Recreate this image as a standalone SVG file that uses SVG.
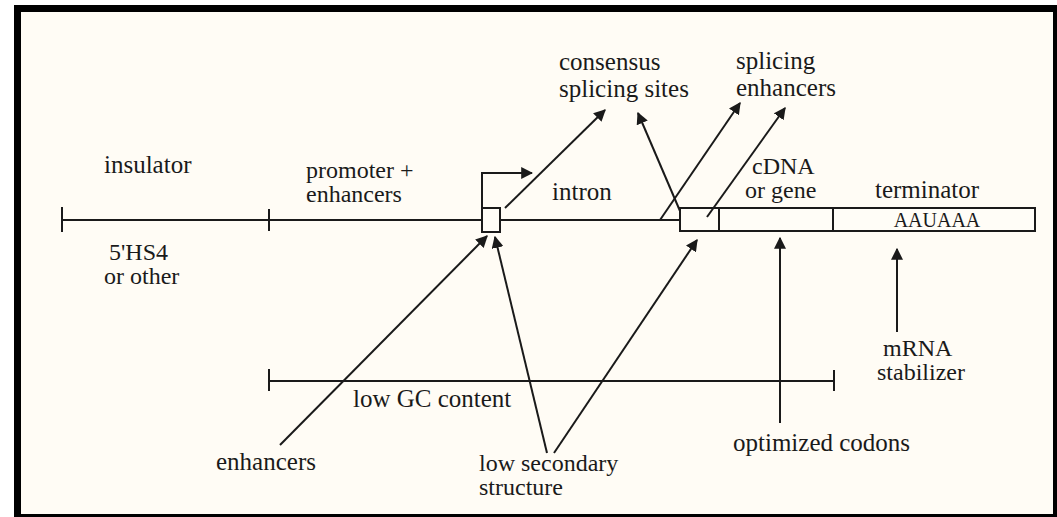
<svg xmlns="http://www.w3.org/2000/svg" width="1057" height="517" viewBox="0 0 1057 517">
<style>
text{font-family:"Liberation Serif","Times New Roman",serif;font-size:25px;fill:#1a1a1a}
.ln{stroke:#1a1a1a;stroke-width:2;fill:none}
.bx{stroke:#1a1a1a;stroke-width:2;fill:#fffdf7}
.ar{stroke:#1a1a1a;stroke-width:2;fill:none;marker-end:url(#ah)}
.sm{font-size:20px}
.tl{font-size:24px}
</style>
<defs>
<marker id="ah" viewBox="0 0 10 10" refX="9" refY="5" markerWidth="6" markerHeight="6" markerUnits="strokeWidth" orient="auto">
<path d="M0,0 L10,5 L0,10 z" fill="#1a1a1a"/>
</marker>
</defs>
<rect x="0" y="0" width="1057" height="517" fill="#ffffff"/>
<rect x="14" y="5" width="1043" height="512" fill="#000"/>
<rect x="21" y="12" width="1032" height="502" fill="#fffcf5"/>

<g id="backbone">
<line class="ln" x1="62" y1="220" x2="482" y2="220"/>
<line class="ln" x1="500" y1="220" x2="680" y2="220"/>
<line class="ln" x1="62" y1="207" x2="62" y2="232"/>
<line class="ln" x1="269" y1="209" x2="269" y2="231"/>
</g>
<g id="exon1"><rect class="bx" x="482" y="208" width="18" height="24"/></g>
<g id="gene">
<rect class="bx" x="680" y="208" width="355" height="23"/>
<line class="ln" x1="719" y1="208" x2="719" y2="231"/>
<line class="ln" x1="833" y1="208" x2="833" y2="231"/>
<text class="sm" x="937" y="227" text-anchor="middle">AAUAAA</text>
</g>
<g id="gc-range">
<line class="ln" x1="269" y1="381" x2="834" y2="381"/>
<line class="ln" x1="269" y1="369" x2="269" y2="391"/>
<line class="ln" x1="834" y1="370" x2="834" y2="391"/>
</g>

<g id="connectors">
<path class="ar" d="M482,208 V173 H532"/>
<line class="ar" x1="505" y1="208" x2="605" y2="110"/>
<line class="ar" x1="680" y1="211" x2="638" y2="113"/>
<line class="ar" x1="660" y1="220" x2="740" y2="103"/>
<line class="ar" x1="707" y1="217" x2="785" y2="108"/>
<line class="ar" x1="280" y1="445" x2="487" y2="236"/>
<line class="ar" x1="547" y1="453" x2="495" y2="237"/>
<line class="ar" x1="554" y1="453" x2="697" y2="240"/>
<line class="ar" x1="780" y1="423" x2="780" y2="238"/>
<line class="ar" x1="897" y1="332" x2="897" y2="249"/>
</g>

<g id="labels">
<text x="104" y="173">insulator</text>
<text class="tl" x="306" y="178">promoter +</text>
<text class="tl" x="306" y="202">enhancers</text>
<text class="tl" x="109" y="260">5'HS4</text>
<text class="tl" x="104" y="284">or other</text>
<text x="552" y="200">intron</text>
<text x="559" y="70">consensus</text>
<text x="559" y="97">splicing sites</text>
<text x="736" y="69">splicing</text>
<text x="736" y="96">enhancers</text>
<text class="tl" x="752" y="174">cDNA</text>
<text class="tl" x="745" y="198">or gene</text>
<text x="875" y="198">terminator</text>
<text x="353" y="407">low GC content</text>
<text x="216" y="470">enhancers</text>
<text class="tl" x="479" y="471">low secondary</text>
<text class="tl" x="479" y="495">structure</text>
<text x="733" y="451">optimized codons</text>
<text class="tl" x="883" y="356">mRNA</text>
<text class="tl" x="877" y="380">stabilizer</text>
</g>
</svg>
